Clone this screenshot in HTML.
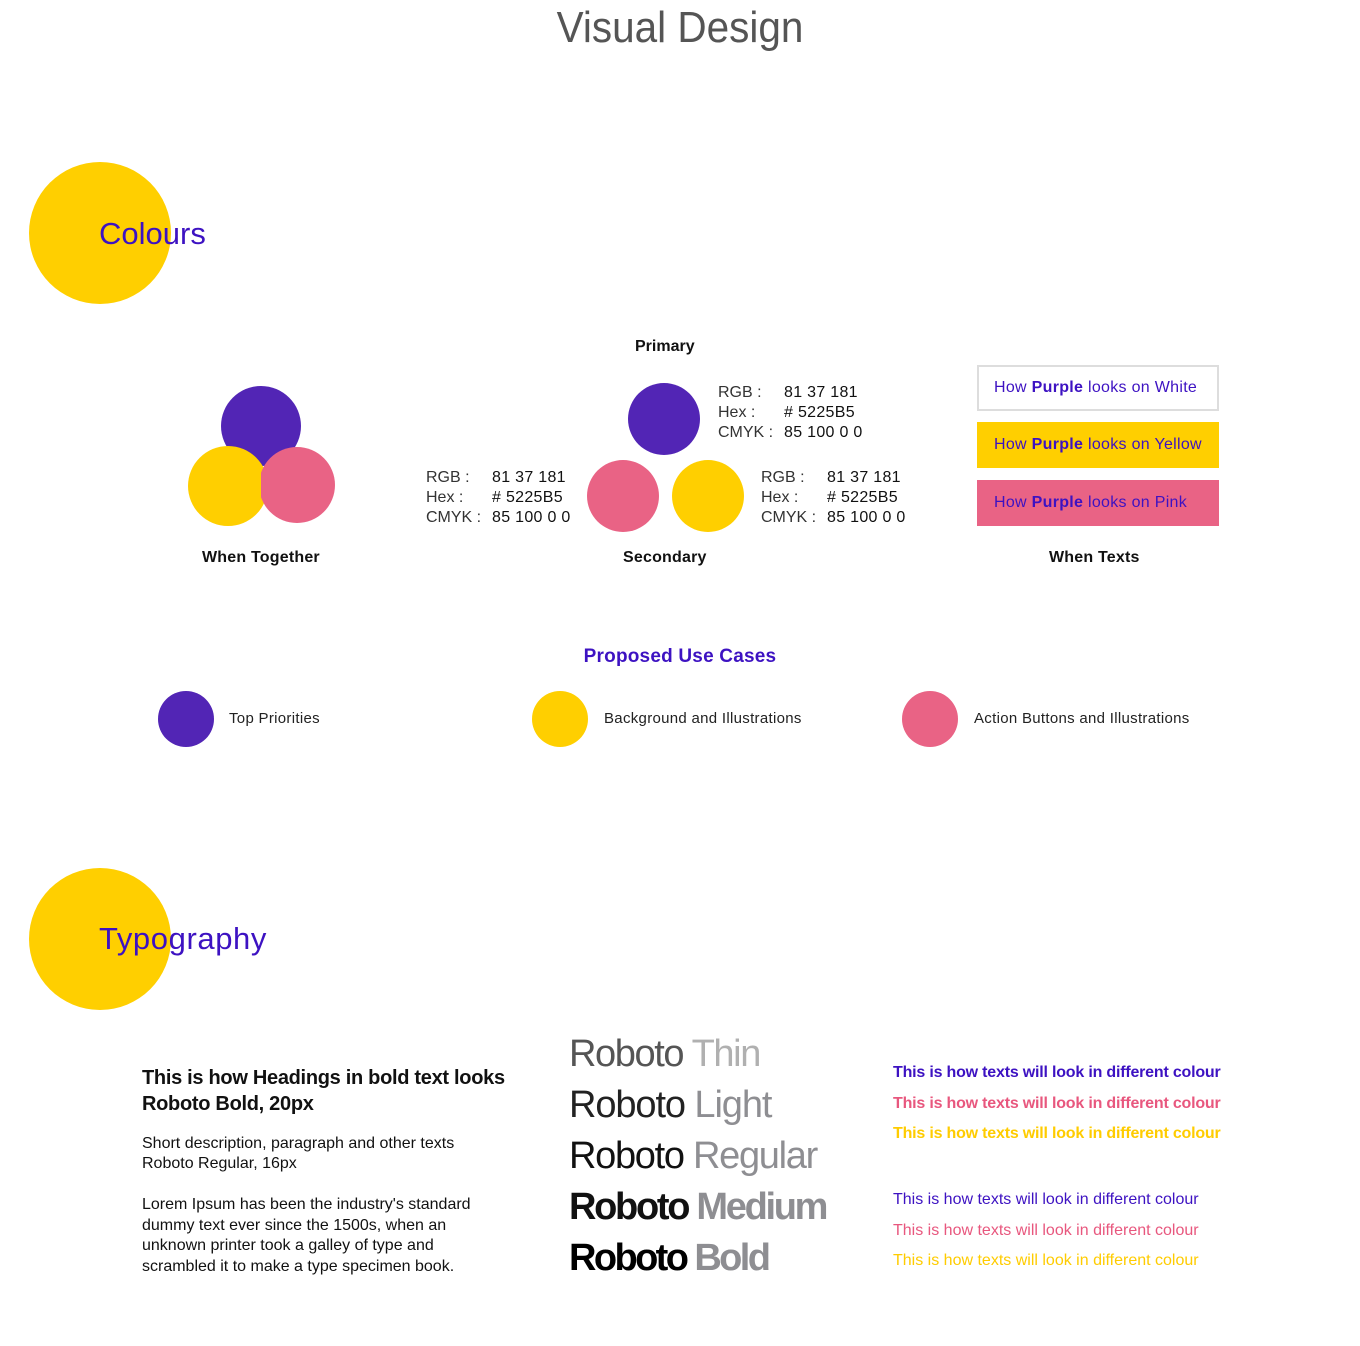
<!DOCTYPE html>
<html><head><meta charset="utf-8"><style>
*{margin:0;padding:0;box-sizing:border-box}
body{width:1360px;height:1346px;background:#fff;position:relative;overflow:hidden;font-family:"Liberation Sans",sans-serif;color:#111}
.a{position:absolute;white-space:nowrap;line-height:1}
.c{position:absolute;border-radius:50%}
.P{color:#3D12C2}.Y{color:#FFCC00}.K{color:#E8577E}
.box{position:absolute;left:977px;width:242px;height:46px;font-size:16px;line-height:46px;padding-left:17px;color:#3D12C2;letter-spacing:0.3px}
.rb{font-size:38px}
.g{color:#8e8e92}
</style></head><body>
<div class="a" style="left:0;width:1360px;text-align:center;top:6px;font-size:44px;color:#555;transform:scaleX(0.92)">Visual Design</div>

<div class="c" style="left:29px;top:162px;width:142px;height:142px;background:#FFCF00"></div>
<div class="a P" style="left:99px;top:218px;font-size:31px">Colours</div>

<div class="a" style="left:635px;top:339px;font-size:16px;font-weight:bold">Primary</div>
<svg style="position:absolute;left:0;top:0" width="1360" height="1346">
<circle cx="261" cy="426" r="40" fill="#5225B5"/>
<circle cx="228" cy="486" r="40" fill="#FFCF00"/>
<clipPath id="r"><rect x="261" y="0" width="200" height="800"/></clipPath>
<circle cx="297" cy="485" r="38" fill="#E96385" clip-path="url(#r)"/>
<circle cx="664" cy="419" r="36" fill="#5225B5"/>
<circle cx="623" cy="496" r="36" fill="#E96385"/>
<circle cx="708" cy="496" r="36" fill="#FFCF00"/>
<circle cx="186" cy="719" r="28" fill="#5225B5"/>
<circle cx="560" cy="719" r="28" fill="#FFCF00"/>
<circle cx="930" cy="719" r="28" fill="#E96385"/>
</svg>

<div class="a" style="left:718px;top:383px;font-size:16px;line-height:20px;color:#333">RGB :<br>Hex :<br>CMYK :</div>
<div class="a" style="left:784px;top:383px;font-size:16px;line-height:20px;letter-spacing:0.3px">81 37 181<br># 5225B5<br>85 100 0 0</div>
<div class="a" style="left:426px;top:468px;font-size:16px;line-height:20px;color:#333">RGB :<br>Hex :<br>CMYK :</div>
<div class="a" style="left:492px;top:468px;font-size:16px;line-height:20px;letter-spacing:0.3px">81 37 181<br># 5225B5<br>85 100 0 0</div>
<div class="a" style="left:761px;top:468px;font-size:16px;line-height:20px;color:#333">RGB :<br>Hex :<br>CMYK :</div>
<div class="a" style="left:827px;top:468px;font-size:16px;line-height:20px;letter-spacing:0.3px">81 37 181<br># 5225B5<br>85 100 0 0</div>

<div class="box" style="top:365px;border:2px solid #ddd;line-height:42px;padding-left:15px">How <b>Purple</b> looks on White</div>
<div class="box" style="top:422px;background:#FFCF00">How <b>Purple</b> looks on Yellow</div>
<div class="box" style="top:480px;background:#E96385">How <b>Purple</b> looks on Pink</div>

<div class="a" style="left:202px;top:550px;font-size:16px;font-weight:bold;letter-spacing:0.2px">When Together</div>
<div class="a" style="left:623px;top:550px;font-size:16px;font-weight:bold;letter-spacing:0.2px">Secondary</div>
<div class="a" style="left:1049px;top:550px;font-size:16px;font-weight:bold;letter-spacing:0.2px">When Texts</div>

<div class="a P" style="left:0;width:1360px;text-align:center;top:647px;font-size:19px;font-weight:bold;letter-spacing:0.2px">Proposed Use Cases</div>
<div class="a" style="left:229px;top:711px;font-size:15px;color:#222;letter-spacing:0.3px">Top Priorities</div>
<div class="a" style="left:604px;top:711px;font-size:15px;color:#222;letter-spacing:0.3px">Background and Illustrations</div>
<div class="a" style="left:974px;top:711px;font-size:15px;color:#222;letter-spacing:0.3px">Action Buttons and Illustrations</div>

<div class="c" style="left:29px;top:868px;width:142px;height:142px;background:#FFCF00"></div>
<div class="a P" style="left:99px;top:923px;font-size:31px;letter-spacing:0.6px">Typography</div>

<div class="a" style="left:142px;top:1065px;font-size:20px;font-weight:bold;line-height:26px;letter-spacing:-0.3px">This is how Headings in bold text looks<br>Roboto Bold, 20px</div>
<div class="a" style="left:142px;top:1134px;font-size:16px;line-height:20px;letter-spacing:0px">Short description, paragraph and other texts<br>Roboto Regular, 16px</div>
<div class="a" style="left:142px;top:1195px;font-size:16px;line-height:20.5px;letter-spacing:0px">Lorem Ipsum has been the industry's standard<br>dummy text ever since the 1500s, when an<br>unknown printer took a galley of type and<br>scrambled it to make a type specimen book.</div>

<div class="a rb" style="left:569px;top:1035px;color:#555;letter-spacing:-1.4px">Roboto <span style="color:#b0b0b0">Thin</span></div>
<div class="a rb" style="left:569px;top:1086px;color:#222;letter-spacing:-1.1px">Roboto <span class="g">Light</span></div>
<div class="a rb" style="left:569px;top:1137px;color:#111;letter-spacing:-1.3px">Roboto <span class="g">Regular</span></div>
<div class="a rb" style="left:569px;top:1188px;color:#111;font-weight:bold;letter-spacing:-2.3px">Roboto <span class="g">Medium</span></div>
<div class="a rb" style="left:569px;top:1239px;color:#000;font-weight:bold;letter-spacing:-2.6px">Roboto <span class="g">Bold</span></div>

<div class="a P" style="left:893px;top:1065px;font-size:16px;font-weight:bold;letter-spacing:-0.2px">This is how texts will look in different colour</div>
<div class="a K" style="left:893px;top:1096px;font-size:16px;font-weight:bold;letter-spacing:-0.2px">This is how texts will look in different colour</div>
<div class="a Y" style="left:893px;top:1126px;font-size:16px;font-weight:bold;letter-spacing:-0.2px">This is how texts will look in different colour</div>
<div class="a P" style="left:893px;top:1192px;font-size:16px;letter-spacing:0px">This is how texts will look in different colour</div>
<div class="a K" style="left:893px;top:1223px;font-size:16px;letter-spacing:0px">This is how texts will look in different colour</div>
<div class="a Y" style="left:893px;top:1253px;font-size:16px;letter-spacing:0px">This is how texts will look in different colour</div>
</body></html>
